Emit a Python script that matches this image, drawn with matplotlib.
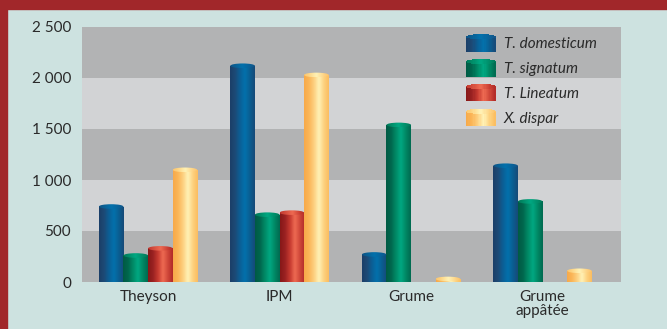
import numpy as np
import matplotlib
matplotlib.use("Agg")
import matplotlib.pyplot as plt
from matplotlib.colors import LinearSegmentedColormap
from matplotlib.patches import Rectangle, Ellipse
from matplotlib.legend_handler import HandlerBase

plt.rcParams['font.family'] = ['Lato', 'DejaVu Sans']

sites = ["Theyson", "IPM", "Grume", "Grume\nappâtée"]
species = ["T. domesticum", "T. signatum", "T. Lineatum", "X. dispar"]
domesticum = [740, 2120, 270, 1140]
signatum = [260, 660, 1540, 790]
lineatum = [330, 680, 0, 0]
dispar = [1100, 2030, 30, 110]
yticks = [0, 500, 1000, 1500, 2000, 2500]
ytick_labels = ["0", "500", "1 000", "1 500", "2 000", "2 500"]

# shading of each cylinder, left edge to right edge
shades = [
    ["#1b3f68", "#1d4a76", "#0b5f96", "#0371ac", "#0a5e92", "#174a78"],
    ["#005a44", "#00674e", "#008a66", "#00a882", "#008864", "#006a50"],
    ["#861818", "#9a2222", "#c63a30", "#ee6a52", "#d0483a", "#b22a28"],
    ["#f7a94a", "#fbb658", "#fdd080", "#fff2b6", "#fdd280", "#fbbd60"],
]
cmaps = [LinearSegmentedColormap.from_list("c%d" % i, s) for i, s in enumerate(shades)]
grad = np.linspace(0, 1, 64).reshape(1, -1)

bg = "#cde2e0"
fig = plt.figure(figsize=(6.67, 3.29), dpi=100, facecolor=bg)
# dark red frame at the top and on the left
fig.patches.append(Rectangle((0, 1 - 9 / 329), 1, 9 / 329, transform=fig.transFigure,
                             color="#a1272a", zorder=0))
fig.patches.append(Rectangle((0, 0), 7 / 667, 1, transform=fig.transFigure,
                             color="#a1272a", zorder=0))

ax = fig.add_axes([82 / 667, 47 / 329, 539 / 667, 255 / 329])
ax.set_facecolor("#b2b3b4")

x = np.arange(len(sites))
w = 0.187
cap = 45
series = [domesticum, signatum, lineatum, dispar]

for k, vals in enumerate(series):
    for i, v in enumerate(vals):
        if v <= 0:
            continue
        x0 = x[i] + (k - 2) * w
        body = Rectangle((x0, 0), w, v, facecolor="none", edgecolor="none")
        ax.add_patch(body)
        im = ax.imshow(grad, cmap=cmaps[k], extent=(x0, x0 + w, 0, v),
                       aspect="auto", zorder=3, interpolation="bicubic")
        im.set_clip_path(body)
        top = Ellipse((x0 + w / 2, v), w, cap, facecolor="none", edgecolor="none")
        ax.add_patch(top)
        im2 = ax.imshow(grad[:, ::-1] * 0.6 + 0.3, cmap=cmaps[k], vmin=0, vmax=1,
                        extent=(x0, x0 + w, v - cap / 2, v + cap / 2),
                        aspect="auto", zorder=4, interpolation="bicubic")
        im2.set_clip_path(top)

# alternating horizontal bands
for j in range(len(yticks) - 1):
    ax.axhspan(yticks[j], yticks[j + 1],
               color="#b2b3b4" if j % 2 == 0 else "#d2d3d5", zorder=0, lw=0)

ax.set_xlim(-0.502, 3.597)
ax.set_ylim(0, 2500)
ax.set_yticks(yticks)
ax.set_yticklabels(ytick_labels)
ax.set_xticks(x)
ax.set_xticklabels(sites, linespacing=1.0)
ax.tick_params(length=0, labelsize=11, colors="#2a2a2a")
ax.tick_params(axis="y", pad=8)
ax.tick_params(axis="x", pad=6)
for s in ax.spines.values():
    s.set_visible(False)


class CylinderHandler(HandlerBase):
    def __init__(self, cmap):
        super().__init__()
        self.cmap = cmap

    def create_artists(self, legend, orig_handle, xdescent, ydescent,
                       width, height, fontsize, trans):
        n = 24
        x0, y0 = -xdescent, -ydescent
        hcap = height * 0.3
        body_h = height - hcap / 2
        arts = []
        for i in range(n):
            u = (i + 0.5) / n
            sx = x0 + width * i / n
            arts.append(Rectangle((sx, y0), width / n + 0.3, body_h,
                                  facecolor=self.cmap(u), lw=0, transform=trans))
            hh = hcap / 2 * np.sqrt(max(0.0, 1 - (2 * u - 1) ** 2))
            arts.append(Rectangle((sx, y0 + body_h - hh), width / n + 0.3, 2 * hh,
                                  facecolor=self.cmap(0.9 - 0.6 * u), lw=0,
                                  transform=trans))
        return arts


handles = [Rectangle((0, 0), 1, 1) for _ in species]
leg = ax.legend(handles, species,
                handler_map={h: CylinderHandler(c) for h, c in zip(handles, cmaps)},
                loc="upper left", bbox_to_anchor=(0.712, 0.972), frameon=False,
                borderpad=0, borderaxespad=0, handlelength=1.96, handleheight=1.4,
                labelspacing=0.47, handletextpad=0.52,
                prop={"style": "italic", "size": 11})
for t in leg.get_texts():
    t.set_color("#2a2a2a")
leg.set_zorder(6)

fig.savefig("out.png", dpi=100, facecolor=bg)
